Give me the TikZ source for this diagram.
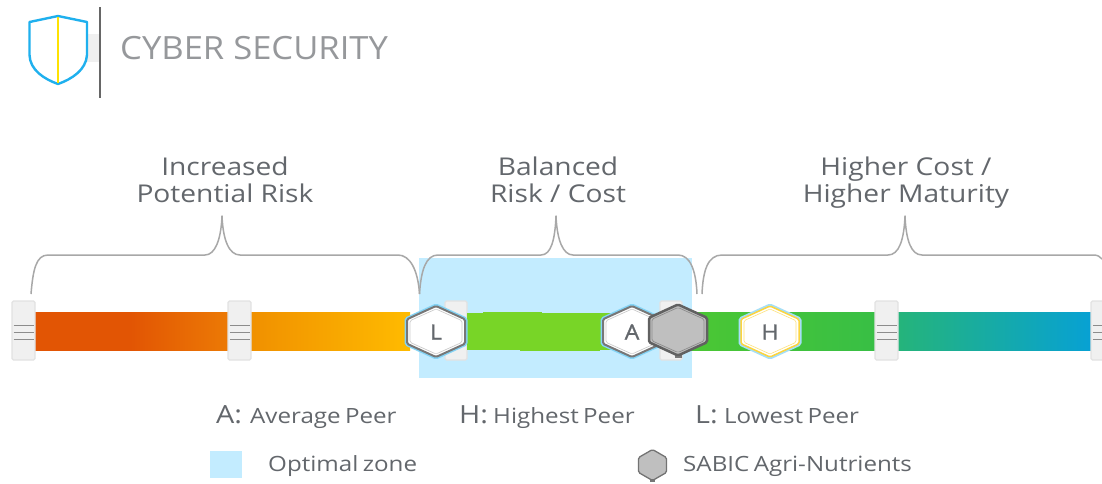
\documentclass[tikz,border=0pt]{standalone}
\usepackage{fontspec}
\setmainfont{Open Sans}[FakeStretch=1.15]
\newfontfamily\titlefont{Open Sans}[FakeStretch=1.08]
\newfontfamily\letterfont{Open Sans}[FakeStretch=1.1,FakeBold=1.2]
\newfontfamily\legendfont{Open Sans}[FakeStretch=1.15,WordSpace=0.7]
\usetikzlibrary{calc}
\definecolor{txt}{HTML}{63676C}
\definecolor{titlec}{HTML}{96989B}
\definecolor{zone}{HTML}{C3ECFF}
\definecolor{bracec}{HTML}{A8A8A8}
\definecolor{handlef}{HTML}{F0F0F0}
\definecolor{handlee}{HTML}{E2E2E2}
\definecolor{hexe}{HTML}{777777}
\definecolor{shield}{HTML}{1FB0EE}
\definecolor{c1}{HTML}{E25504}\definecolor{c2}{HTML}{EC7A05}\definecolor{c3}{HTML}{F09000}\definecolor{c4}{HTML}{FFBB00}
\definecolor{g1}{HTML}{78D527}\definecolor{g2}{HTML}{4CC733}\definecolor{g3}{HTML}{38BF45}\definecolor{g4}{HTML}{25B47A}\definecolor{g5}{HTML}{07A1D4}
\tikzset{
  x=1pt,y=-1pt,
  lbl/.style={text=txt,inner sep=0pt,anchor=base west,font=\legendfont\fontsize{#1}{#1}\selectfont},
  lbl/.default=20,
  head/.style={text=txt,inner sep=0pt,anchor=base,font=\fontsize{24.5}{27}\selectfont},
  brc/.style={draw=bracec,line width=1.5pt,line join=round},
  handlebox/.style={draw=handlee,fill=handlef,line width=1.2pt,rounded corners=1.5pt},
  grip/.style={draw=black!45,line width=1pt},
  letter/.style={inner sep=0pt,text=txt,font=\letterfont\fontsize{21}{21}\selectfont},
}
% hexagon: centre x,y, half width, half height
\newcommand{\hexa}[5][]{%
  \draw[rounded corners=1.5pt,#1] (#2,#3-#5) -- (#2+#4,#3-#5*0.48) -- (#2+#4,#3+#5*0.48) -- (#2,#3+#5) -- (#2-#4,#3+#5*0.48) -- (#2-#4,#3-#5*0.48) -- cycle;}
% segment of the colour bar
\newcommand{\barseg}[4]{\fill[left color=#3,right color=#4] (#1,312.5) rectangle (#2,350);}
% bar handle
\newcommand{\handle}[2]{%
  \draw[handlebox] (#1,301) rectangle (#2,360);
  \foreach \yy in {325,332,339} \draw[grip] (#1+1.5,\yy) -- (#2-1.5,\yy);}
\begin{document}
\begin{tikzpicture}
\useasboundingbox (0,0) rectangle (1102,483);
\fill[white] (0,0) rectangle (1102,483);
% header
\fill[handlef] (87,34) rectangle (99,62);
\draw[line width=2.2pt,draw=black!60] (100,7) -- (100,98);
\draw[shield,line width=2.4pt,line join=round,fill=white] (58,16) -- (87,22) -- (87,55) .. controls (86,70) and (72,79) .. (58,84) .. controls (44,79) and (30,70) .. (29.5,55) -- (29.5,22) -- cycle;
\draw[line width=2.2pt,draw=yellow!85!orange] (58,17) -- (58,83);
\node[inner sep=0pt,anchor=west,text=titlec,font=\titlefont\fontsize{32}{32}\selectfont] (title) at (120,48) {CYBER SECURITY};
% zone
\fill[zone] (418.5,258) rectangle (692,378);
% bar
\barseg{35}{130}{c1}{c1}
\barseg{130}{229}{c1}{c2}
\barseg{250}{410}{c3}{c4}
\handle{12}{35}
\handle{228}{251}
\draw[handlebox] (445,301) rectangle (467,360);
\draw[handlebox] (660,301) rectangle (682,360);
\fill[g1] (467,312.5) rectangle (612,350);
\fill[g1] (483,311.5) rectangle (542,345);
\fill[g1] (520,345) rectangle (600,351);
\barseg{682}{875}{g2}{g3}
\barseg{897}{1092}{g4}{g5}
\handle{875}{898}
\handle{1091}{1108}
% braces
\draw[brc] (31,294) .. controls (33,270) and (36,255) .. (48,255) -- (205,255) .. controls (215,255) and (221,240) .. (222,216) .. controls (223,240) and (229,255) .. (240,255) -- (398,255) .. controls (410,255) and (418,270) .. (419.5,294);
\draw[brc] (419.5,294) .. controls (421,270) and (426,255) .. (438,255) -- (541,255) .. controls (551,255) and (555,240) .. (556,216) .. controls (557,240) and (563,255) .. (573,255) -- (678,255) .. controls (690,255) and (696,270) .. (697,294);
\draw[brc] (702,294) .. controls (703,270) and (708,255) .. (722,255) -- (888,255) .. controls (899,255) and (904,240) .. (905,216) .. controls (906,240) and (911,255) .. (922,255) -- (1094,255) .. controls (1098,255) and (1100,257) .. (1102,259);
% hexagons
\hexa[draw=shield!55,line width=3pt]{436}{331.5}{30}{26.5}
\hexa[draw=hexe,fill=white,line width=2pt]{436}{331.5}{29}{25.5}
\hexa[draw=black!20,line width=0.7pt]{436}{331.5}{26}{22.5}
\node[letter] (L) at (436,332) {L};
\hexa[draw=shield!55,line width=3pt]{632}{331.5}{30}{26.5}
\hexa[draw=hexe,fill=white,line width=2pt]{632}{331.5}{29}{25.5}
\hexa[draw=black!20,line width=0.7pt]{632}{331.5}{26}{22.5}
\node[letter] (A) at (632,332) {A};
\draw[hexe,fill=hexe,line width=0pt] (675,352) rectangle (681,357);
\hexa[draw=black!62,fill=black!25,line width=2.5pt]{678}{330}{29}{25.5}
\hexa[draw=black!45,line width=0.7pt]{678}{330}{26}{22.5}
\hexa[draw=shield!40,line width=3pt]{770}{331.5}{30}{26.5}
\hexa[draw=yellow!60!orange!75,fill=white,line width=1.5pt]{770}{331.5}{29}{25.5}
\hexa[draw=yellow!60!orange!50,line width=0.6pt]{770}{331.5}{26}{22.5}
\node[letter] (H) at (770,332) {H};
% headings
\node[head] (h1a) at (225,175) {Increased};
\node[head] (h1b) at (225,202) {Potential Risk};
\node[head] (h2a) at (558,175) {Balanced};
\node[head] (h2b) at (558,202) {Risk / Cost};
\node[head] (h3a) at (906,175) {Higher Cost /};
\node[head] (h3b) at (906,202) {Higher Maturity};
% legend
\node[lbl=25] (la) at (216,423) {A:};
\node[lbl=21] (lat) at (250,423) {Average Peer};
\node[lbl=25] (lh) at (459,423) {H:};
\node[lbl=21] (lht) at (493,423) {Highest Peer};
\node[lbl=25] (ll) at (695,423) {L:};
\node[lbl=21] (llt) at (724,423) {Lowest Peer};
\fill[zone] (210,451) rectangle (242,478);
\node[lbl=21] (oz) at (268,471) {Optimal zone};
\draw[hexe,fill=hexe,line width=0pt] (650,478) rectangle (654,481.5);
\hexa[draw=black!55,fill=black!25,line width=1.3pt]{652.5}{465}{14}{15.5}
\node[lbl=21] (sa) at (683,471) {SABIC Agri-Nutrients};
\end{tikzpicture}
\end{document}
